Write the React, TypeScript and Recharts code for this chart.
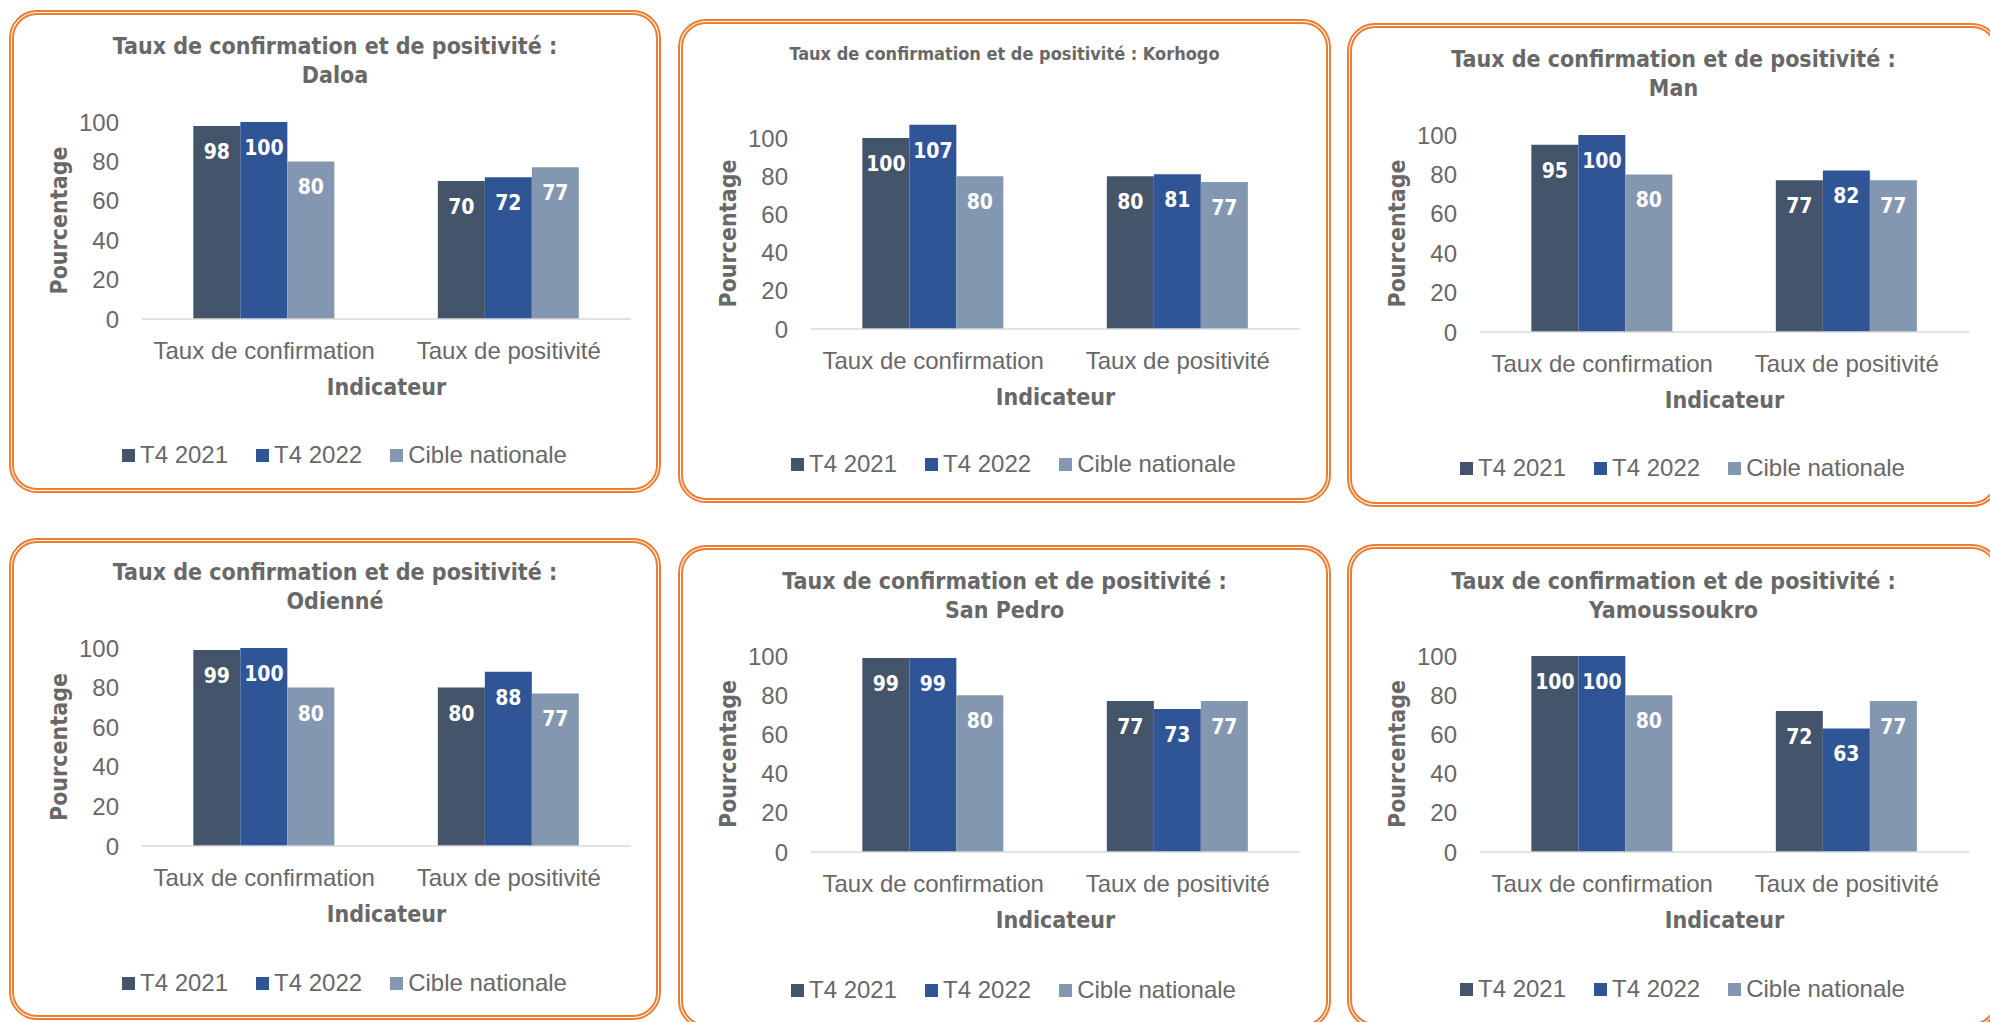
import React from 'react';
import { BarChart, Bar, XAxis, YAxis, LabelList, Label } from 'recharts';

const categories = ['Taux de confirmation', 'Taux de positivité'];
const seriesNames = ['T4 2021', 'T4 2022', 'Cible nationale'];
const seriesKeys = ['t2021', 't2022', 'cible'];
const seriesColors = ['#44546A', '#2F5597', '#8497B0'];
const yTicks = [0, 20, 40, 60, 80, 100];

const sites = ['Daloa', 'Korhogo', 'Man', 'Odienné', 'San Pedro', 'Yamoussoukro'];
const t2021 = [[98, 70], [100, 80], [95, 77], [99, 80], [99, 77], [100, 72]];
const t2022 = [[100, 72], [107, 81], [100, 82], [100, 88], [99, 73], [100, 63]];
const cible = [[80, 77], [80, 77], [80, 77], [80, 77], [80, 77], [80, 77]];

// panel boxes on the page, and plot geometry inside each panel
const panels = [
  { left: 9, top: 10, width: 652, height: 483, y100: 112, y0: 309, titleTop: 22 },
  { left: 678, top: 19, width: 653, height: 484, y100: 119, y0: 310, titleTop: 20 },
  { left: 1347, top: 23, width: 653, height: 484, y100: 112, y0: 309, titleTop: 22 },
  { left: 9, top: 538, width: 652, height: 482, y100: 110, y0: 308, titleTop: 20 },
  { left: 678, top: 545, width: 653, height: 484, y100: 111, y0: 307, titleTop: 22 },
  { left: 1347, top: 544, width: 653, height: 484, y100: 112, y0: 308, titleTop: 23 },
];

const PLOT_LEFT = 133;
const PLOT_RIGHT = 622;
const X_AXIS_H = 100;

const GRAY = '#686868';
const BODY_FONT = '"Liberation Sans", Arial, sans-serif';
const BOLD_FONT = '"DejaVu Sans Condensed", "DejaVu Sans", sans-serif';

const Panel: React.FC<{ idx: number }> = ({ idx }) => {
  const p = panels[idx];
  const site = sites[idx];
  const single = site === 'Korhogo';
  const data = categories.map((name, i) => ({
    name,
    t2021: t2021[idx][i],
    t2022: t2022[idx][i],
    cible: cible[idx][i],
  }));
  const plotTop = p.y0 - 1.2 * (p.y0 - p.y100);
  const yMid = (p.y0 + p.y100) / 2;
  const xMid = (PLOT_LEFT + PLOT_RIGHT) / 2;

  return (
    <>
      <div
        style={{
          position: 'absolute', left: p.left, top: p.top, width: p.width, height: p.height,
          boxSizing: 'border-box', border: '5px double #ED7D31', borderRadius: 28, background: '#fff',
        }}
      />
      <div style={{ position: 'absolute', left: p.left, top: p.top, width: p.width, height: p.height }}>
        <div
          style={{
            position: 'absolute', left: 0, width: p.width, top: p.titleTop, textAlign: 'center',
            fontFamily: BOLD_FONT, fontStretch: 'condensed', fontWeight: 700, color: GRAY,
            fontSize: single ? 18 : 23, lineHeight: '29px',
          }}
        >
          {single ? (
            <div>Taux de confirmation et de positivité : {site}</div>
          ) : (
            <>
              <div>Taux de confirmation et de positivité :</div>
              <div>{site}</div>
            </>
          )}
        </div>
        <BarChart
          width={p.width}
          height={p.height}
          data={data}
          barCategoryGap="21%"
          barGap={0}
          margin={{ top: plotTop, right: p.width - PLOT_RIGHT, left: 0, bottom: p.height - p.y0 - X_AXIS_H }}
          style={{ position: 'absolute', left: 0, top: 0 }}
        >
          <XAxis
            dataKey="name"
            height={X_AXIS_H}
            interval={0}
            tickLine={false}
            tickSize={0}
            tickMargin={23}
            axisLine={{ stroke: '#D9D9D9', strokeWidth: 1.5 }}
            tick={{ fill: GRAY, fontSize: 24, fontFamily: BODY_FONT }}
          >
            <Label
              content={() => (
                <text
                  x={xMid} y={p.y0 + 68} textAnchor="middle" dominantBaseline="central"
                  fill={GRAY} fontSize={23} fontWeight={700} fontFamily={BOLD_FONT} style={{ fontStretch: 'condensed' }}
                >
                  Indicateur
                </text>
              )}
            />
          </XAxis>
          <YAxis
            width={PLOT_LEFT}
            domain={[0, 120]}
            ticks={yTicks}
            axisLine={false}
            tickLine={false}
            tickSize={0}
            tickMargin={23}
            tick={{ fill: GRAY, fontSize: 24, fontFamily: BODY_FONT }}
          >
            <Label
              content={() => (
                <text
                  x={50} y={yMid} transform={`rotate(-90 50 ${yMid})`} textAnchor="middle" dominantBaseline="central"
                  fill={GRAY} fontSize={23} fontWeight={700} fontFamily={BOLD_FONT} style={{ fontStretch: 'condensed' }}
                >
                  Pourcentage
                </text>
              )}
            />
          </YAxis>
          {seriesKeys.map((k, si) => (
            <Bar key={k} dataKey={k} name={seriesNames[si]} fill={seriesColors[si]} isAnimationActive={false}>
              <LabelList
                dataKey={k}
                position="insideTop"
                offset={18}
                fill="#ffffff"
                fontSize={21}
                fontWeight={700}
                fontFamily={BOLD_FONT}
                style={{ fontStretch: 'condensed' }}
              />
            </Bar>
          ))}
        </BarChart>
        <div
          style={{
            position: 'absolute', left: 113, top: 431, height: 28, display: 'flex', alignItems: 'center',
            fontFamily: BODY_FONT, fontSize: 24, color: GRAY, whiteSpace: 'nowrap',
          }}
        >
          {seriesNames.map((n, si) => (
            <div key={n} style={{ display: 'flex', alignItems: 'center', marginRight: 28 }}>
              <span style={{ width: 13, height: 13, background: seriesColors[si], marginRight: 5, display: 'inline-block' }} />
              <span>{n}</span>
            </div>
          ))}
        </div>
      </div>
    </>
  );
};

export default function App() {
  return (
    <div
      style={{
        position: 'absolute', left: 0, top: 0, width: 1990, height: 1022,
        overflow: 'hidden', background: '#ffffff',
      }}
    >
      {panels.map((_, i) => (
        <Panel key={i} idx={i} />
      ))}
    </div>
  );
}
